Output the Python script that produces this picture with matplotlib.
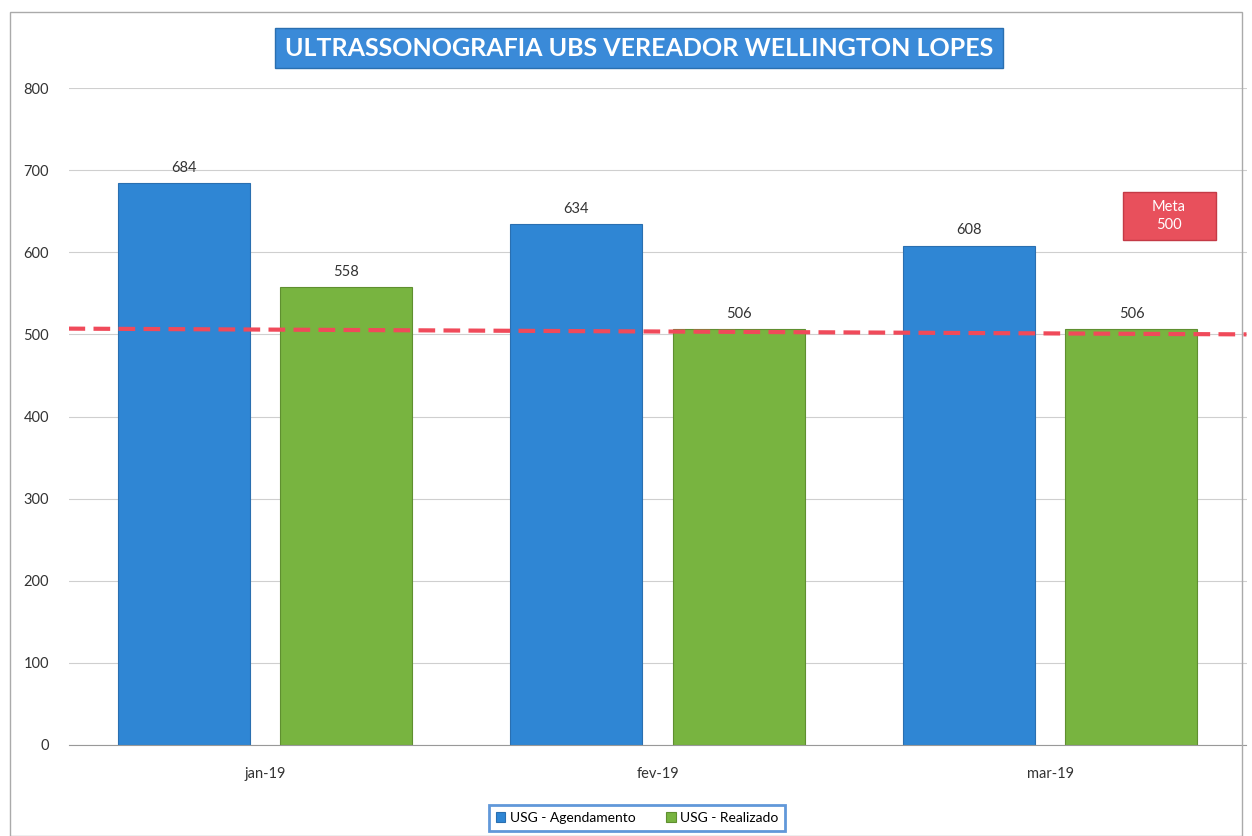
import numpy as np
import matplotlib
matplotlib.use("Agg")
import matplotlib.pyplot as plt
from matplotlib.patches import Rectangle

months = ["jan-19", "fev-19", "mar-19"]
agendamento = [684, 634, 608]
realizado = [558, 506, 506]
meta = 500
series_names = ["USG - Agendamento", "USG - Realizado"]
title = "ULTRASSONOGRAFIA UBS VEREADOR WELLINGTON LOPES"

plt.rcParams['font.family'] = ['Lato', 'DejaVu Sans']

blue = "#2f86d4"
green = "#78b440"

fig = plt.figure(figsize=(12.52, 8.36), dpi=100)
ax = fig.add_axes([68.5 / 1252, 1 - 745 / 836, 1178 / 1252, 657 / 836])

x = np.arange(len(months))
w = 0.336
off = 0.207
b1 = ax.bar(x - off, agendamento, w, color=blue, edgecolor="#2a6fb0", linewidth=0.8,
            label=series_names[0], zorder=2)
b2 = ax.bar(x + off, realizado, w, color=green, edgecolor="#5f8f30", linewidth=0.8,
            label=series_names[1], zorder=2)

for bars, vals in [(b1, agendamento), (b2, realizado)]:
    for r, v in zip(bars, vals):
        ax.text(r.get_x() + r.get_width() / 2, v + 10, str(v), ha="center", va="bottom",
                fontsize=10.5, color="#333333")

# meta line (slightly tilted as in the scanned original)
ax.plot([-0.5, 2.5], [meta + 7, meta], color="#f04a5a", linestyle=(0, (4, 2)),
        linewidth=3, zorder=3)

ax.set_xlim(-0.5, 2.5)
ax.set_ylim(0, 800)
ax.set_yticks(range(0, 801, 100))
ax.set_xticks(x)
ax.set_xticklabels(months)
ax.grid(axis="y", color="#cfcfcf", linewidth=0.8, zorder=0)
for s in ["top", "right", "left"]:
    ax.spines[s].set_visible(False)
ax.spines["bottom"].set_color("#999999")
ax.tick_params(axis="both", length=0, labelsize=10.5, colors="#333333")
ax.tick_params(axis="x", pad=16)
ax.tick_params(axis="y", pad=14)

# meta box
fig.patches.append(Rectangle((1123 / 1252, 1 - 240 / 836), 93 / 1252, 48 / 836,
                             transform=fig.transFigure, facecolor="#e8505c",
                             edgecolor="#c43a46", linewidth=1, zorder=5))
fig.text(1169 / 1252, 1 - 216 / 836, "Meta\n%d" % meta, ha="center", va="center",
         fontsize=10.5, color="white", linespacing=1.3, zorder=6)

# title box
fig.patches.append(Rectangle((275 / 1252, 1 - 68 / 836), 728 / 1252, 40 / 836,
                             transform=fig.transFigure, facecolor="#3a8ad8",
                             edgecolor="#2a6fb0", linewidth=1, zorder=5))
fig.text(639 / 1252, 1 - 48 / 836, title, ha="center", va="center", fontsize=18,
         fontweight="bold", color="white", zorder=6)

leg = fig.legend(loc="center", bbox_to_anchor=(637 / 1252, 1 - 818 / 836), ncol=2,
                 fontsize=10, frameon=True, handlelength=0.7, handleheight=0.7,
                 columnspacing=2.2, handletextpad=0.3, fancybox=False, borderpad=0.5)
leg.get_frame().set_edgecolor("#3a7fd0")
leg.get_frame().set_linewidth(2)

# outer border
fig.patches.append(Rectangle((10 / 1252, 0), 1 - 20 / 1252, 1 - 12 / 836,
                             transform=fig.transFigure, fill=False, edgecolor="#aaaaaa",
                             linewidth=1))

fig.savefig("out.png", dpi=100)
